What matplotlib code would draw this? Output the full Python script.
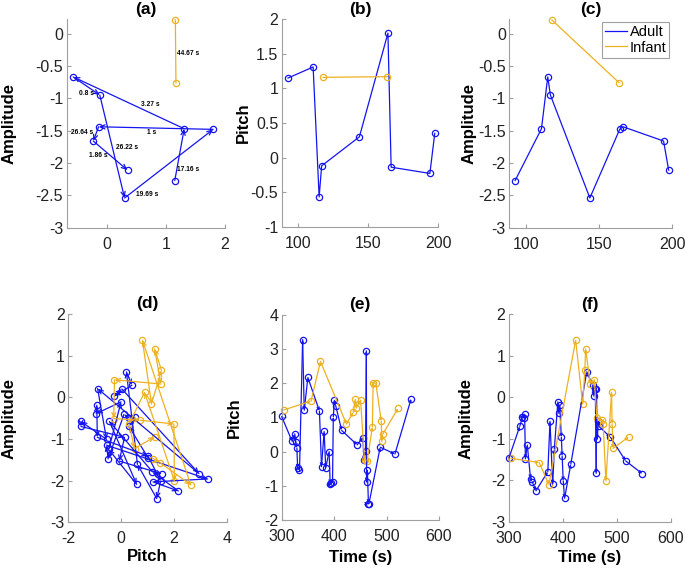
import matplotlib
matplotlib.use("Agg")
import matplotlib.pyplot as plt
from matplotlib.lines import Line2D

plt.rcParams['font.family'] = ['Liberation Sans', 'DejaVu Sans']
plt.rcParams['axes.unicode_minus'] = False

# short excerpt (panels a-c)
adult_t = [92.5, 110.5, 114.8, 116.6, 143.6, 164.0, 166.3, 194.0, 197.5]
adult_pitch = [1.15, 1.31, -0.57, -0.12, 0.30, 1.80, -0.14, -0.23, 0.35]
adult_amp = [-2.27, -1.47, -0.67, -0.95, -2.54, -1.48, -1.44, -1.66, -2.11]
infant_t = [117.6, 163.6]
infant_pitch = [1.16, 1.17]
infant_amp = [0.21, -0.76]
adult_gaps = ["17.16 s", "3.27 s", "0.8 s", "26.22 s", "19.69 s", "1 s", "26.64 s", "1.86 s"]
infant_gaps = ["44.67 s"]

# longer excerpt (panels d-f)
adult_t2 = [300, 320, 325, 327, 329, 330.5, 334, 340, 343, 350, 372, 376, 381, 384,
            390.5, 392.5, 394, 397, 398.5, 400.5, 403, 414.5, 444, 455, 457, 460,
            461.5, 462, 463.5, 465.5, 466.5, 488, 516, 547]
adult_pitch2 = [1.03, 0.30, 0.52, 0.29, 0.11, -0.49, -0.55, 3.28, 1.21, 2.17, 1.19, -0.44,
                0.59, -0.47, 0.00, -0.94, -0.92, -0.90, 1.02, 1.50, 1.35, 0.62, 0.20, 0.41,
                -0.25, 0.03, 2.95, -0.89, -0.55, -1.52, -1.52, 0.13, -0.07, 1.55]
adult_amp2 = [-1.46, -0.70, -0.48, -0.49, -0.41, -1.48, -1.15, -1.96, -2.03, -2.25, -1.79,
              -0.58, -2.09, -1.25, -0.11, -0.39, -0.19, -0.96, -1.41, -2.01, -2.43, -1.61,
              0.61, 0.29, 0.03, 0.20, -1.83, 0.21, -1.01, -0.58, -0.70, -0.96, -1.53, -1.84]
infant_t2 = [304, 356, 374, 423.5, 436.5, 440.5, 442, 450.5, 458, 463, 473, 474.5,
             479.5, 490, 491, 492.7, 522]
infant_pitch2 = [1.22, 1.48, 2.64, 0.81, 1.15, 1.53, 1.27, 1.51, -0.25, -0.28, 0.72, 2.00,
                 2.02, 0.89, 0.30, 0.51, 1.27]
infant_amp2 = [-1.47, -1.57, -2.10, 1.37, -0.16, 0.65, 1.16, 0.32, 0.42, -0.51, -0.55,
               -0.64, -2.01, 0.12, -0.64, -1.23, -0.95]

BLUE = '#1414f0'
ORANGE = '#EDB120'

# label offsets (points) from segment midpoints in panel (a)
adult_gap_offsets = [(6.4, -10.7), (15.3, -0.9), (0, -5.1), (10.7, -0.7), (-15.3, -22),
                     (-3, -3.3), (-10, 0.9), (-8.9, 0.2)]
infant_gap_offsets = [(9.2, -1.6)]


def arrows(ax, x, y, color, head=10):
    for i in range(len(x) - 1):
        ax.annotate('', xy=(x[i + 1], y[i + 1]), xytext=(x[i], y[i]),
                    arrowprops=dict(arrowstyle='->,head_length=0.35,head_width=0.15',
                                    color=color, lw=0.9, shrinkA=0, shrinkB=0,
                                    mutation_scale=head))
    ax.plot(x, y, 'o', color=color, mfc='none', ms=4.5, mew=0.9, clip_on=False)


def lines(ax, x, y, color):
    ax.plot(x, y, '-o', color=color, mfc='none', ms=4.5, mew=0.9, lw=0.9, clip_on=False)


def gap_labels(ax, x, y, labels, offsets):
    for i, lab in enumerate(labels):
        mx = (x[i] + x[i + 1]) / 2
        my = (y[i] + y[i + 1]) / 2
        ax.annotate(lab, (mx, my), xytext=offsets[i], textcoords='offset points',
                    ha='center', va='center', fontsize=4.8, fontweight='bold')


def style(ax, title, xlim, ylim, xticks, yticks, ylabel, ylab_x, xlabel=None, xlab_y=None):
    ax.set_xlim(xlim)
    ax.set_ylim(ylim)
    ax.set_xticks(xticks)
    ax.set_yticks(yticks)
    ax.set_xticklabels([f"{v:g}" for v in xticks])
    ax.set_yticklabels([f"{v:g}" for v in yticks])
    for s in ['top', 'right']:
        ax.spines[s].set_visible(False)
    for s in ['left', 'bottom']:
        ax.spines[s].set_color('#a0a0a0')
        ax.spines[s].set_linewidth(0.8)
    ax.tick_params(direction='in', length=3, color='#a0a0a0', labelsize=11.5,
                   labelcolor='#222222')
    ax.tick_params(axis='x', pad=6.5)
    ax.tick_params(axis='y', pad=2.5)
    ax.set_title(title, fontsize=12.5, fontweight='bold', pad=4)
    ax.set_ylabel(ylabel, fontsize=12, fontweight='bold')
    ax.yaxis.set_label_coords(ylab_x, 0.5)
    if xlabel:
        ax.set_xlabel(xlabel, fontsize=12, fontweight='bold')
        ax.xaxis.set_label_coords(0.5, xlab_y)


fig = plt.figure(figsize=(6.85, 5.68), dpi=100)

ax_a = fig.add_axes([0.0974, 0.599, 0.231, 0.367])
ax_b = fig.add_axes([0.4112, 0.601, 0.2286, 0.365])
ax_c = fig.add_axes([0.7435, 0.599, 0.238, 0.367])
ax_d = fig.add_axes([0.0997, 0.0805, 0.2312, 0.3667])
ax_e = fig.add_axes([0.4112, 0.0845, 0.2296, 0.361])
ax_f = fig.add_axes([0.743, 0.081, 0.2365, 0.366])

# (a) pitch vs amplitude with time gaps
arrows(ax_a, adult_pitch, adult_amp, BLUE)
lines(ax_a, infant_pitch, infant_amp, ORANGE)
gap_labels(ax_a, adult_pitch, adult_amp, adult_gaps, adult_gap_offsets)
gap_labels(ax_a, infant_pitch, infant_amp, infant_gaps, infant_gap_offsets)
style(ax_a, '(a)', (-0.68, 2), (-3, 0.22), [0, 1, 2],
      [0, -0.5, -1, -1.5, -2, -2.5, -3], 'Amplitude', -0.316)

# (b) time vs pitch
lines(ax_b, adult_t, adult_pitch, BLUE)
lines(ax_b, infant_t, infant_pitch, ORANGE)
style(ax_b, '(b)', (88, 200), (-1, 2), [100, 150, 200],
      [2, 1.5, 1, 0.5, 0, -0.5, -1], 'Pitch', -0.198)

# (c) time vs amplitude
lines(ax_c, adult_t, adult_amp, BLUE)
lines(ax_c, infant_t, infant_amp, ORANGE)
style(ax_c, '(c)', (88.5, 200), (-3, 0.22), [100, 150, 200],
      [0, -0.5, -1, -1.5, -2, -2.5, -3], 'Amplitude', -0.202)
handles = [Line2D([], [], color=BLUE, lw=0.9), Line2D([], [], color=ORANGE, lw=0.9)]
leg = ax_c.legend(handles, ['Adult', 'Infant'], loc='upper right', fontsize=10.5,
                  handlelength=1.5, handletextpad=0.2, borderpad=0.2, labelspacing=0.1,
                  borderaxespad=0.2, fancybox=False, framealpha=1)
leg.get_frame().set_edgecolor('#a0a0a0')
leg.get_frame().set_linewidth(0.8)

# (d) pitch vs amplitude, long excerpt
arrows(ax_d, adult_pitch2, adult_amp2, BLUE, head=9)
arrows(ax_d, infant_pitch2, infant_amp2, ORANGE, head=9)
style(ax_d, '(d)', (-2, 4), (-3, 2), [-2, 0, 2, 4], [2, 1, 0, -1, -2, -3],
      'Amplitude', -0.328, 'Pitch', -0.13)

# (e) time vs pitch, long excerpt
arrows(ax_e, adult_t2, adult_pitch2, BLUE, head=5)
arrows(ax_e, infant_t2, infant_pitch2, ORANGE, head=5)
style(ax_e, '(e)', (300, 600), (-2, 4), [300, 400, 500, 600], [4, 3, 2, 1, 0, -1, -2],
      'Pitch', -0.252, 'Time (s)', -0.146)

# (f) time vs amplitude, long excerpt
arrows(ax_f, adult_t2, adult_amp2, BLUE, head=5)
arrows(ax_f, infant_t2, infant_amp2, ORANGE, head=5)
style(ax_f, '(f)', (300, 600), (-3, 2), [300, 400, 500, 600], [2, 1, 0, -1, -2, -3],
      'Amplitude', -0.216, 'Time (s)', -0.135)

fig.savefig("out.png", dpi=100)
